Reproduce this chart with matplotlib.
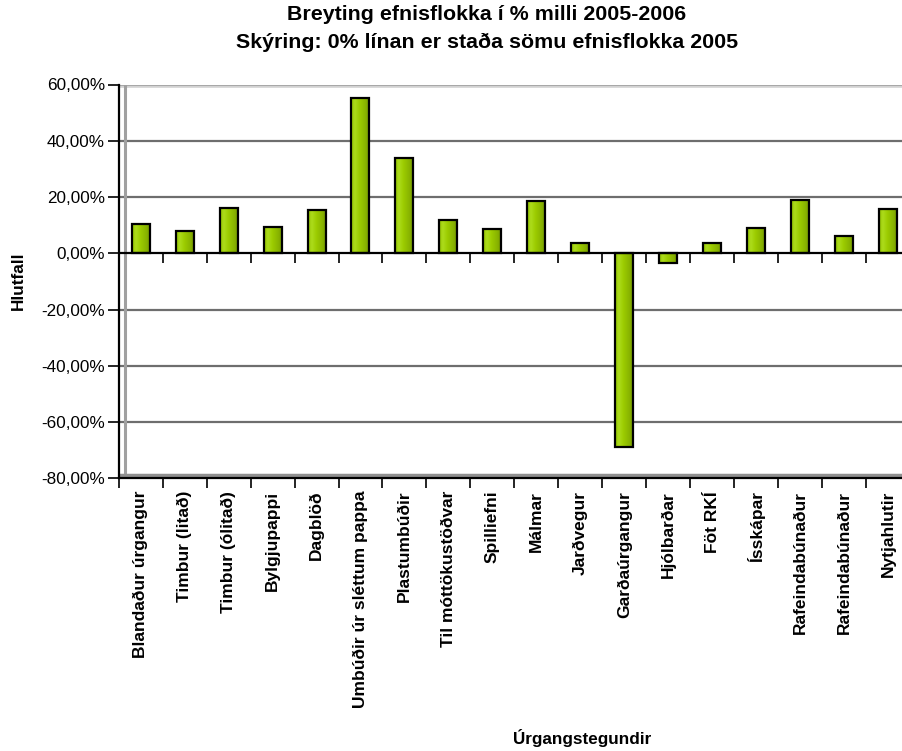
import numpy as np
import matplotlib
matplotlib.use("Agg")
import matplotlib.pyplot as plt
from matplotlib.colors import LinearSegmentedColormap
from matplotlib.ticker import FuncFormatter, FixedLocator

plt.rcParams['font.family'] = ['Liberation Sans', 'DejaVu Sans']

categories = ["Blandaður úrgangur", "Timbur (litað)", "Timbur (ólitað)", "Bylgjupappi",
              "Dagblöð", "Umbúðir úr sléttum pappa", "Plastumbúðir", "Til móttökustöðvar",
              "Spilliefni", "Málmar", "Jarðvegur", "Garðaúrgangur", "Hjólbarðar",
              "Föt RKÍ", "Ísskápar", "Rafeindabúnaður", "Rafeindabúnaður", "Nytjahlutir"]
values = [10.4, 8.0, 16.1, 9.5, 15.5, 55.3, 33.9, 11.9, 8.6, 18.6, 3.8, -69.0,
          -3.3, 3.6, 9.0, 19.1, 6.1, 15.9]
y_ticks = [-80, -60, -40, -20, 0, 20, 40, 60]
title1 = "Breyting efnisflokka í % milli 2005-2006"
title2 = "Skýring: 0% línan er staða sömu efnisflokka 2005"
y_label = "Hlutfall"
x_label = "Úrgangstegundir"

W, H = 902, 751
fig = plt.figure(figsize=(W / 100, H / 100), dpi=100)
ax_left, ax_right = 118.7, 910.0
ax_top, ax_bot = 84.5, 478.3
ax = fig.add_axes([ax_left / W, (H - ax_bot) / H, (ax_right - ax_left) / W, (ax_bot - ax_top) / H])

n = len(categories)
x = np.arange(n)
ax.set_xlim(-0.5, n - 0.5)
ax.set_ylim(-80, 60)

# gridlines (back wall)
for v in y_ticks:
    if v in (0, -80):
        continue
    col = '#a8a8a8' if v == 60 else '#6e6e6e'
    ax.axhline(v, color=col, lw=1.6, zorder=1)
ax.axhline(60, color='#d8d8d8', lw=3.5, zorder=0.9)

# 3D wall / floor hint
ax.axvline(-0.5 + 6.5 / 44.0, color='#a0a0a0', lw=2.2, zorder=1.2)
ax.axhline(-80 + 3.0 / 2.8125, color='#909090', lw=2.5, zorder=1.2)

# bars
cmap = LinearSegmentedColormap.from_list(
    'bargrad', [(0.0, '#92c200'), (0.2, '#addc1c'), (0.45, '#9ccc00'),
                (0.8, '#86b000'), (1.0, '#6c9000')])
grad = np.linspace(0, 1, 256).reshape(1, -1)
bars = ax.bar(x, values, width=0.41, facecolor='none', edgecolor='black',
              linewidth=1.6, zorder=4)
for b in bars:
    x0, y0 = b.get_x(), b.get_y()
    w, h = b.get_width(), b.get_height()
    im = ax.imshow(grad, cmap=cmap, aspect='auto', zorder=3,
                   extent=(x0, x0 + w, min(y0, y0 + h), max(y0, y0 + h)),
                   interpolation='bicubic')
    im.set_clip_path(b)
ax.set_xlim(-0.5, n - 0.5)
ax.set_ylim(-80, 60)

# zero line
ax.axhline(0, color='black', lw=1.6, zorder=5)

# spines
for s in ('top', 'right'):
    ax.spines[s].set_visible(False)
ax.spines['left'].set_linewidth(1.6)
ax.spines['bottom'].set_linewidth(1.6)

# y axis
ax.set_yticks(y_ticks)
ax.yaxis.set_major_formatter(FuncFormatter(lambda v, p: f"{v:.2f}".replace('.', ',') + "%"))
ax.tick_params(axis='y', direction='out', length=8, width=1.2, pad=2, labelsize=12.3)

# x axis: boundary ticks, labels at centres
ax.xaxis.set_major_locator(FixedLocator(np.arange(n + 1) - 0.5))
ax.xaxis.set_minor_locator(FixedLocator(x))
ax.set_xticklabels([])
ax.set_xticklabels(categories, minor=True, rotation=90, fontweight='bold', fontsize=12.5)
ax.tick_params(axis='x', which='major', direction='out', length=7, width=1.2)
ax.tick_params(axis='x', which='minor', length=0, pad=9)

# ticks hanging from the zero line
sec = ax.secondary_xaxis(80 / 140)
sec.xaxis.set_major_locator(FixedLocator(np.arange(n + 1) - 0.5))
sec.set_xticklabels([])
sec.tick_params(axis='x', direction='in', length=7, width=1.2)
sec.spines['top'].set_visible(False)
sec.spines['bottom'].set_visible(False)

# titles and labels
fig.text(487 / W, 1 - 15 / H, title1, ha='center', va='center', fontsize=15.4, fontweight='bold')
fig.text(487 / W, 1 - 42 / H, title2, ha='center', va='center', fontsize=15.4, fontweight='bold')
fig.text(18 / W, 1 - 281 / H, y_label, ha='center', va='center', rotation=90,
         fontsize=12.3, fontweight='bold')
fig.text(582 / W, 1 - 738 / H, x_label, ha='center', va='center', fontsize=12.3, fontweight='bold')

fig.savefig('out.png', dpi=100)
